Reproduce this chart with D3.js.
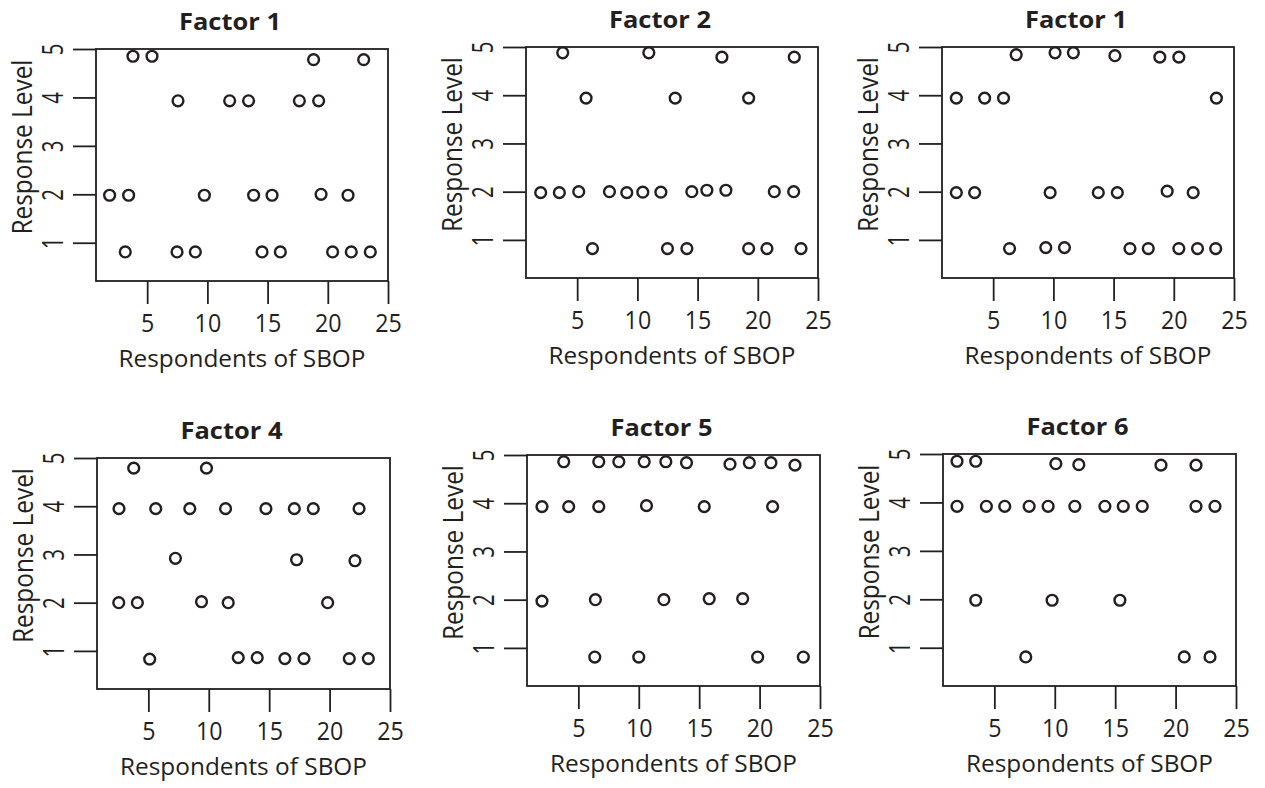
<!DOCTYPE html>
<html>
<head>
<meta charset="utf-8">
<script src="https://cdn.jsdelivr.net/npm/d3@7"></script>
<style>
  html, body { margin: 0; padding: 0; background: #fff; }
  svg { display: block; }
</style>
</head>
<body>
<div id="graphic"></div>
<script>
// six factor panels: respondents (x) vs response level (y)
const width = 1265;
const height = 788;

const titles = ["Factor 1", "Factor 2", "Factor 1", "Factor 4", "Factor 5", "Factor 6"];
const xTicks = [5, 10, 15, 20, 25];
const yTicks = [1, 2, 3, 4, 5];
const xLabelText = "Respondents of SBOP";
const yLabelText = "Response Level";

// values (x = respondent position, y = level)
const f1X = [3.82, 5.40, 18.82, 22.98, 7.56, 11.85, 13.42, 17.64, 19.24, 1.88, 3.46, 9.75, 13.84, 15.37, 19.44, 21.68, 3.18, 7.48, 9.00, 14.54, 16.06, 20.40, 21.95, 23.53];
const f1Y = [4.85, 4.85, 4.78, 4.78, 3.93, 3.93, 3.93, 3.93, 3.93, 1.98, 1.98, 1.98, 1.98, 1.98, 2.00, 1.98, 0.81, 0.81, 0.81, 0.81, 0.81, 0.81, 0.81, 0.81];

const f2X = [3.80, 10.95, 17.02, 23.03, 5.74, 13.14, 19.24, 1.97, 3.52, 5.13, 7.68, 9.12, 10.45, 11.95, 14.52, 15.77, 17.35, 21.37, 22.98, 6.27, 12.50, 14.11, 19.24, 20.76, 23.59];
const f2Y = [4.88, 4.88, 4.79, 4.79, 3.94, 3.94, 3.94, 1.98, 1.98, 2.00, 2.00, 1.98, 1.99, 1.99, 2.00, 2.03, 2.03, 2.00, 2.00, 0.82, 0.82, 0.82, 0.82, 0.82, 0.82];

const f3X = [6.91, 10.14, 11.66, 15.11, 18.84, 20.42, 1.94, 4.29, 5.86, 23.54, 1.94, 3.46, 9.73, 13.73, 15.31, 19.45, 21.61, 6.36, 9.37, 10.92, 16.36, 17.88, 20.42, 21.97, 23.48];
const f3Y = [4.84, 4.88, 4.88, 4.82, 4.79, 4.79, 3.94, 3.94, 3.94, 3.94, 1.98, 1.98, 1.98, 1.98, 1.98, 2.01, 1.98, 0.82, 0.84, 0.84, 0.82, 0.82, 0.82, 0.82, 0.82];

const f4X = [3.79, 9.81, 2.57, 5.61, 8.43, 11.39, 14.73, 17.08, 18.65, 22.44, 7.24, 17.27, 22.10, 2.55, 4.09, 9.40, 11.61, 19.84, 5.11, 12.44, 14.01, 16.30, 17.88, 21.63, 23.21];
const f4Y = [4.79, 4.79, 3.95, 3.95, 3.95, 3.95, 3.95, 3.95, 3.95, 3.95, 2.92, 2.89, 2.87, 2.00, 2.00, 2.02, 2.00, 2.00, 0.83, 0.86, 0.86, 0.84, 0.84, 0.84, 0.84];

const f5X = [3.79, 6.69, 8.35, 10.45, 12.24, 13.95, 17.55, 19.15, 20.94, 22.93, 1.99, 4.20, 6.69, 10.64, 15.42, 21.08, 1.99, 6.41, 12.08, 15.83, 18.60, 6.36, 10.00, 19.84, 23.62];
const f5Y = [4.86, 4.86, 4.86, 4.86, 4.86, 4.84, 4.81, 4.84, 4.84, 4.79, 3.93, 3.93, 3.93, 3.95, 3.93, 3.93, 1.97, 2.00, 2.00, 2.02, 2.02, 0.81, 0.81, 0.81, 0.81];

const f6X = [1.91, 3.46, 10.09, 11.99, 18.79, 21.69, 1.91, 4.34, 5.86, 7.88, 9.45, 11.66, 14.15, 15.67, 17.24, 21.69, 23.26, 3.46, 9.78, 15.39, 7.60, 20.72, 22.85];
const f6Y = [4.85, 4.85, 4.80, 4.78, 4.77, 4.77, 3.92, 3.92, 3.92, 3.92, 3.92, 3.92, 3.92, 3.92, 3.92, 3.92, 3.92, 1.98, 1.98, 1.98, 0.81, 0.81, 0.81];

const seriesX = [f1X, f2X, f3X, f4X, f5X, f6X];
const seriesY = [f1Y, f2Y, f3Y, f4Y, f5Y, f6Y];

// plot boxes (layout)
const boxes = [
  { x: 96, y: 49, w: 292, h: 232 },
  { x: 526, y: 47, w: 292, h: 231 },
  { x: 942, y: 47, w: 292, h: 231 },
  { x: 97, y: 458, w: 293, h: 231 },
  { x: 527, y: 455, w: 293, h: 231 },
  { x: 943, y: 454, w: 293, h: 232 }
];

const ink = "#231f20";
const font = "'Open Sans', 'Liberation Sans', Arial, sans-serif";
const lw = 1.8;

const svg = d3.select("#graphic").append("svg")
  .attr("width", width)
  .attr("height", height)
  .attr("viewBox", `0 0 ${width} ${height}`)
  .style("font-family", font);

boxes.forEach((b, i) => {
  const x = d3.scaleLinear().domain([0.75, 25]).range([b.x, b.x + b.w]);
  const y = d3.scaleLinear().domain([0.21, 5]).range([b.y + b.h, b.y]);

  const g = svg.append("g");

  // title
  g.append("text")
    .attr("x", b.x + b.w / 2 - 12)
    .attr("y", b.y - 19)
    .attr("text-anchor", "middle")
    .attr("font-size", 24)
    .attr("font-weight", 700)
    .attr("fill", ink)
    .attr("textLength", 102)
    .attr("lengthAdjust", "spacingAndGlyphs")
    .text(titles[i]);

  // x axis: ticks only, hanging below the box
  const gx = g.append("g")
    .attr("transform", `translate(0,${b.y + b.h})`)
    .call(d3.axisBottom(x).tickValues(xTicks).tickSize(23).tickFormat(d3.format("d")));
  gx.select(".domain").remove();
  gx.selectAll(".tick line").attr("stroke", ink).attr("stroke-width", lw);
  gx.selectAll(".tick text")
    .attr("font-size", 25)
    .attr("font-family", font)
    .attr("fill", ink)
    .attr("dy", null)
    .attr("y", 51)
    .attr("transform", "scale(0.93,1)");

  // y axis: ticks to the left, labels rotated
  const gy = g.append("g")
    .attr("transform", `translate(${b.x},0)`)
    .call(d3.axisLeft(y).tickValues(yTicks).tickSize(23).tickFormat(d3.format("d")));
  gy.select(".domain").remove();
  gy.selectAll(".tick line").attr("stroke", ink).attr("stroke-width", lw);
  gy.selectAll(".tick text")
    .attr("font-size", 30)
    .attr("font-family", font)
    .attr("fill", ink)
    .attr("x", null)
    .attr("dy", null)
    .attr("text-anchor", "middle")
    .attr("transform", "translate(-33,0) rotate(-90) scale(0.68,1)");

  // box
  g.append("rect")
    .attr("x", b.x)
    .attr("y", b.y)
    .attr("width", b.w)
    .attr("height", b.h)
    .attr("fill", "none")
    .attr("stroke", ink)
    .attr("stroke-width", lw);

  // axis titles
  g.append("text")
    .attr("x", b.x + b.w / 2)
    .attr("y", b.y + b.h + 86)
    .attr("text-anchor", "middle")
    .attr("font-size", 23.5)
    .attr("fill", ink)
    .attr("textLength", 247)
    .attr("lengthAdjust", "spacingAndGlyphs")
    .text(xLabelText);

  const cy = b.y + b.h / 2 - 18;
  g.append("text")
    .attr("transform", `translate(${b.x - 64},${cy}) rotate(-90)`)
    .attr("text-anchor", "middle")
    .attr("font-size", 28)
    .attr("fill", ink)
    .attr("textLength", 175)
    .attr("lengthAdjust", "spacingAndGlyphs")
    .text(yLabelText);

  // points
  const pts = seriesX[i].map((v, k) => ({ x: v, y: seriesY[i][k] }));
  g.append("g").selectAll("circle")
    .data(pts)
    .join("circle")
    .attr("cx", d => x(d.x))
    .attr("cy", d => y(d.y))
    .attr("r", 5.4)
    .attr("fill", "none")
    .attr("stroke", ink)
    .attr("stroke-width", 2.4);
});
</script>
</body>
</html>
